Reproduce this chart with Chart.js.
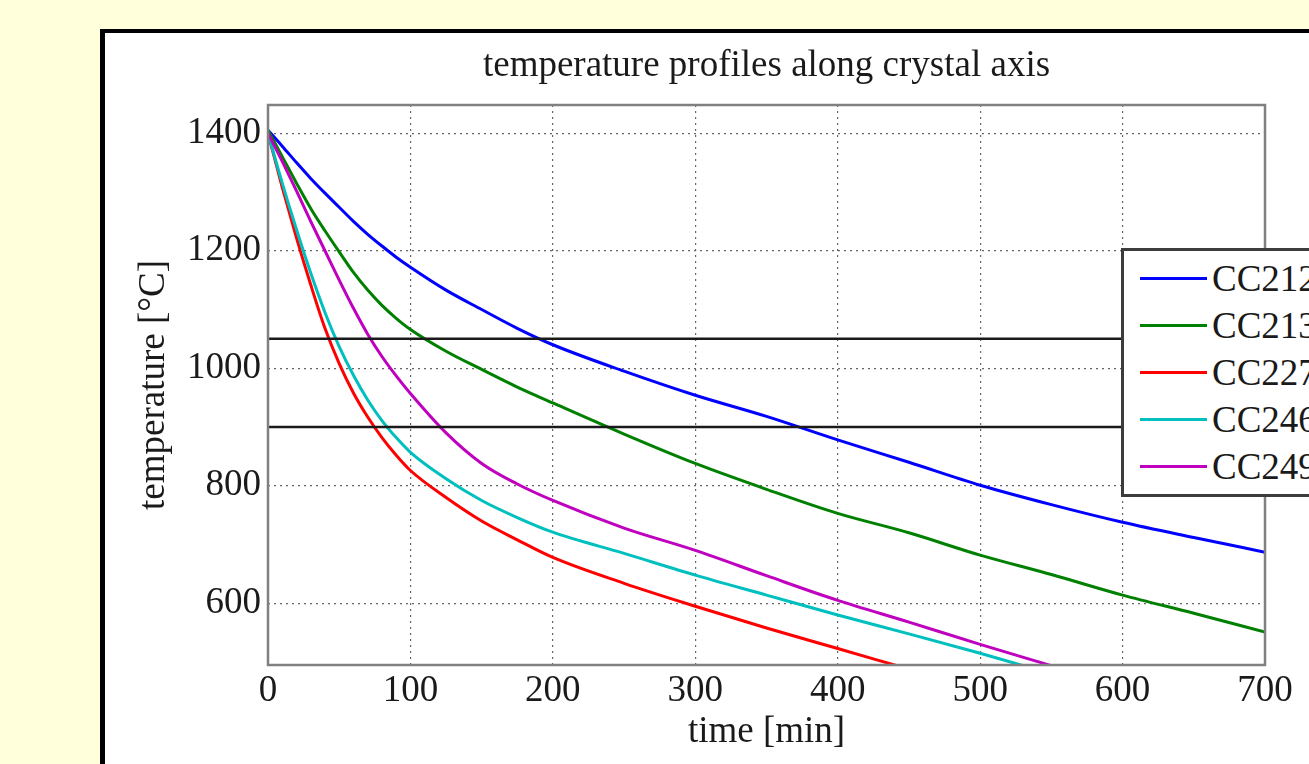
<!DOCTYPE html>
<html>
<head>
<meta charset="utf-8">
<title>temperature profiles along crystal axis</title>
<script src="https://cdn.jsdelivr.net/npm/chart.js@4.4.1/dist/chart.umd.min.js"></script>
<style>
  html, body { margin: 0; padding: 0; }
  body {
    width: 1309px; height: 764px; overflow: hidden;
    background: #ffffdc; position: relative;
    font-family: "Liberation Serif", "Times New Roman", serif;
  }
  #panel {
    position: absolute; left: 100px; top: 29px; width: 1300px; height: 800px;
    background: #fff; border-left: 5px solid #000; border-top: 4px solid #000;
  }
  #plot { position: absolute; left: 0; top: 0; }
  #legend {
    position: absolute; left: 1121px; top: 248px; width: 260px; height: 249px;
    box-sizing: border-box; padding-top: 4px;
    background: #fff; border: 3px solid #3c3c3c; z-index: 2;
  }
  .row { display: flex; align-items: center; height: 47px; white-space: nowrap; }
  .swatch { width: 67px; height: 3px; margin-left: 16px; }
  .name { margin-left: 5px; font-size: 37px; color: #1a1a1a; }
</style>
</head>
<body>
<div id="panel"></div>
<canvas id="plot" width="1309" height="764"></canvas>
<div id="legend"></div>

<script>
// time axis (min) shared by all curves
var time = [0, 10, 20, 30, 40, 50, 60, 70, 80, 90, 100, 125, 150, 175, 200, 250, 300, 350, 400, 450, 500, 550, 600, 650, 700];

// temperatures in °C
var cc212 = [1405, 1378, 1350, 1323, 1298, 1274, 1250, 1228, 1208, 1189, 1172, 1133, 1100, 1068, 1040, 995, 954, 918, 878, 840, 801, 768, 738, 712, 687];
var cc213 = [1405, 1360, 1315, 1272, 1234, 1198, 1163, 1133, 1107, 1085, 1066, 1029, 998, 968, 941, 888, 838, 794, 753, 720, 682, 649, 614, 583, 551];
var cc227 = [1400, 1308, 1222, 1142, 1068, 1008, 958, 917, 882, 852, 826, 780, 740, 708, 678, 634, 595, 558, 523, 488, null, null, null, null, null];
var cc246 = [1400, 1315, 1236, 1162, 1095, 1037, 988, 946, 911, 882, 857, 812, 775, 746, 721, 685, 648, 614, 580, 548, 515, 480, null, null, null];
var cc249 = [1400, 1352, 1302, 1250, 1200, 1150, 1102, 1058, 1020, 987, 957, 890, 838, 803, 775, 728, 690, 647, 605, 568, 530, 494, null, null, null];

var seriesNames = ['CC212', 'CC213', 'CC227', 'CC246', 'CC249'];
var seriesValues = [cc212, cc213, cc227, cc246, cc249];
var seriesColors = ['#0000ff', '#008000', '#ff0000', '#00bfbf', '#bf00bf'];

// horizontal reference levels
var refLevels = [1050, 900];

var xTicks = [0, 100, 200, 300, 400, 500, 600, 700];
var yTicks = [600, 800, 1000, 1200, 1400];

Chart.defaults.font.family = "'Liberation Serif', 'Times New Roman', serif";
Chart.defaults.font.size = 37;
Chart.defaults.color = '#1a1a1a';

function toPoints(values) {
  var pts = [];
  time.forEach(function(t, i) {
    if (values[i] !== null) pts.push({ x: t, y: values[i] });
  });
  return pts;
}

var datasets = [];
refLevels.forEach(function(level) {
  datasets.push({
    label: 'ref ' + level,
    data: [{ x: xTicks[0], y: level }, { x: xTicks[xTicks.length - 1], y: level }],
    borderColor: '#1a1a1a',
    borderWidth: 2.5,
    pointRadius: 0,
    order: -10
  });
});
seriesNames.forEach(function(name, i) {
  datasets.push({
    label: name,
    data: toPoints(seriesValues[i]),
    borderColor: seriesColors[i],
    borderWidth: 3,
    pointRadius: 0,
    cubicInterpolationMode: 'monotone',
    order: -i
  });
});

// gray box around the plot area
var framePlugin = {
  id: 'frame',
  afterDatasetsDraw: function(chart) {
    var a = chart.chartArea, ctx = chart.ctx;
    ctx.save();
    ctx.strokeStyle = '#808080';
    ctx.lineWidth = 2.5;
    ctx.strokeRect(a.left, a.top, a.right - a.left, a.bottom - a.top);
    ctx.restore();
  }
};

new Chart(document.getElementById('plot'), {
  type: 'line',
  data: { datasets: datasets },
  plugins: [framePlugin],
  options: {
    responsive: false,
    devicePixelRatio: 1,
    animation: false,
    layout: { padding: { left: 0, right: 44, top: 0, bottom: 0 } },
    plugins: {
      legend: { display: false },
      tooltip: { enabled: false },
      title: {
        display: true,
        text: 'temperature profiles along crystal axis',
        fullSize: false,
        color: '#1a1a1a',
        font: { size: 37, weight: 'normal' },
        padding: { top: 43.8, bottom: 16.8 }
      }
    },
    scales: {
      x: {
        type: 'linear',
        min: 0,
        max: 700,
        afterBuildTicks: function(scale) {
          scale.ticks = xTicks.map(function(v) { return { value: v }; });
        },
        afterFit: function(scale) { scale.height = 99; },
        ticks: { padding: 4, maxRotation: 0, autoSkip: false, callback: function(v) { return String(v); } },
        grid: { color: '#666666', lineWidth: 1.2, drawTicks: false },
        border: { display: false, dash: [2, 4] },
        title: { display: true, text: 'time [min]', padding: { top: 0, bottom: 9.3 } }
      },
      y: {
        type: 'linear',
        min: 495,
        max: 1448,
        afterBuildTicks: function(scale) {
          scale.ticks = yTicks.map(function(v) { return { value: v }; });
        },
        afterFit: function(scale) { scale.width = 268; },
        ticks: { padding: 7, autoSkip: false, callback: function(v) { return String(v); } },
        grid: { color: '#666666', lineWidth: 1.2, drawTicks: false },
        border: { display: false, dash: [2, 4] },
        title: { display: true, text: 'temperature [°C]', padding: { top: 131.8, bottom: 0 } }
      }
    }
  }
});

// legend box built from the same series
var legend = document.getElementById('legend');
seriesNames.forEach(function(name, i) {
  var row = document.createElement('div');
  row.className = 'row';
  var sw = document.createElement('span');
  sw.className = 'swatch';
  sw.style.background = seriesColors[i];
  var txt = document.createElement('span');
  txt.className = 'name';
  txt.textContent = name;
  row.appendChild(sw);
  row.appendChild(txt);
  legend.appendChild(row);
});
</script>
</body>
</html>
